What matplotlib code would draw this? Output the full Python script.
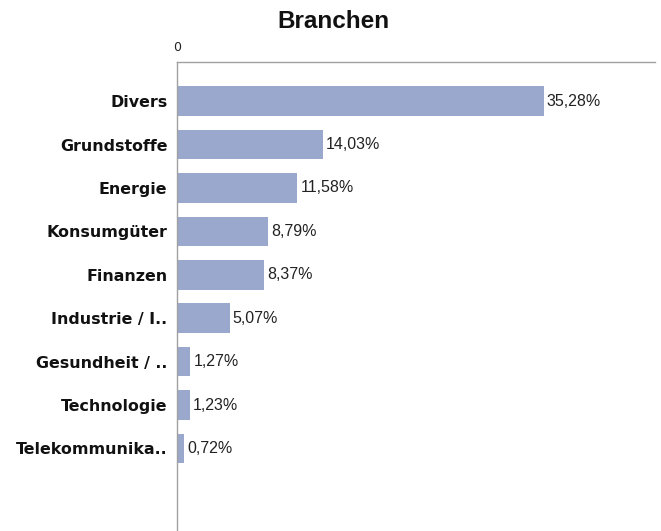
import matplotlib
matplotlib.use("Agg")
import matplotlib.pyplot as plt

categories = ["Divers", "Grundstoffe", "Energie", "Konsumgüter", "Finanzen",
              "Industrie / I..", "Gesundheit / ..", "Technologie", "Telekommunika.."]
values = [35.28, 14.03, 11.58, 8.79, 8.37, 5.07, 1.27, 1.23, 0.72]
value_labels = ["35,28%", "14,03%", "11,58%", "8,79%", "8,37%", "5,07%", "1,27%", "1,23%", "0,72%"]
title = "Branchen"

fig = plt.figure(figsize=(6.61, 5.31), dpi=100)
ax = fig.add_axes([177/661, 0.0, (655-177)/661, 1 - 62/531])

ypos = list(range(len(categories)))
ax.barh(ypos, values, height=0.68, color="#9BA8CD", zorder=2)

ax.set_xlim(0, 46)
ax.set_ylim(9.9, -0.9)

for y, v, lab in zip(ypos, values, value_labels):
    ax.text(v + 0.3, y, lab, va="center", ha="left", fontsize=11.5,
            family="Liberation Sans", color="#222222")

ax.set_yticks(ypos)
ax.set_yticklabels(categories, fontsize=11.4, fontweight="bold",
                   family="DejaVu Sans", color="#111111")
ax.tick_params(axis="y", length=0, pad=7)

ax.xaxis.tick_top()
ax.set_xticks([0])
ax.set_xticklabels(["0"], fontsize=9, family="DejaVu Sans", color="#222222")
ax.tick_params(axis="x", length=0, pad=6)

for s in ["right", "bottom"]:
    ax.spines[s].set_visible(False)
for s in ["top", "left"]:
    ax.spines[s].set_color("#A0A0A0")
    ax.spines[s].set_linewidth(1.0)

fig.text(333/661, 1 - 22/531, title, ha="center", va="center",
         fontsize=17.5, fontweight="bold", family="Liberation Sans", color="#111111")

fig.savefig("out.png", dpi=100)
